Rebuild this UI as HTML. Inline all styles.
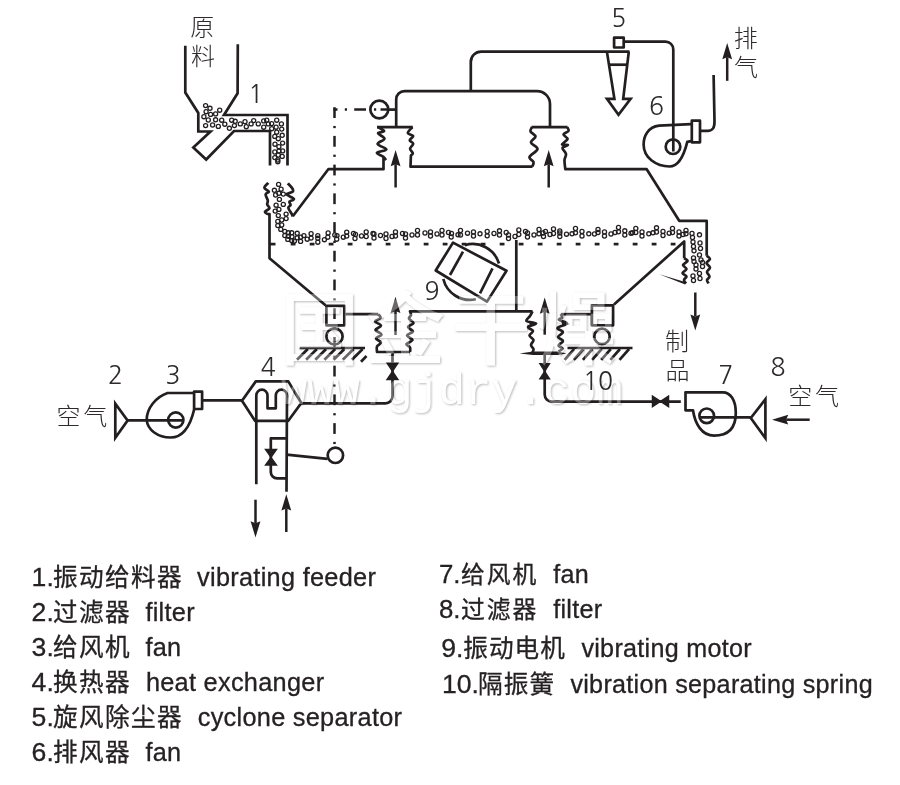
<!DOCTYPE html>
<html lang="zh">
<head>
<meta charset="utf-8">
<title>振动流化床干燥机流程图</title>
<style>
html,body{margin:0;padding:0;background:#fff;}
body{width:900px;height:785px;overflow:hidden;}
svg{display:block;filter:blur(0.35px);}
text{font-family:"Liberation Sans","Noto Sans CJK SC",sans-serif;}
.lab text{fill:#2e2a2b;font-family:"NanumGothic","Noto Sans CJK SC","Liberation Sans",sans-serif;font-weight:400;}
.lab text.c{font-family:"Noto Sans CJK SC","Liberation Sans",sans-serif;font-weight:300;}
.leg text{fill:#262223;stroke:#262223;stroke-width:0.3px;}
.wm text{fill:#fff;stroke:none;font-family:"Liberation Sans","Noto Sans CJK SC",sans-serif;font-weight:400;}
</style>
</head>
<body>
<svg width="900" height="785" viewBox="0 0 900 785">
<rect width="900" height="785" fill="#fff"/>
<g stroke-linecap="butt" stroke-linejoin="round">
<path d="M185.30,45.80 L185.30,92.50 L198.30,113.00 L198.30,131.50 L210.50,131.50 L193.30,147.50 L206.20,159.50 L234.00,131.00 L270.00,131.00 L270.00,165.50" fill="none" stroke="#231f20" stroke-width="2.7" stroke-linejoin="miter"/>
<path d="M237.80,44.20 L237.60,93.30 L224.00,115.00 L287.50,115.00 L287.50,165.50" fill="none" stroke="#231f20" stroke-width="2.7" stroke-linejoin="miter"/>
<circle cx="205.6" cy="105.6" r="2.05" fill="none" stroke="#231f20" stroke-width="1.3"/>
<circle cx="210.0" cy="108.3" r="2.05" fill="none" stroke="#231f20" stroke-width="1.3"/>
<circle cx="206.1" cy="111.7" r="2.05" fill="none" stroke="#231f20" stroke-width="1.3"/>
<circle cx="210.6" cy="114.4" r="2.05" fill="none" stroke="#231f20" stroke-width="1.3"/>
<circle cx="215.6" cy="113.9" r="2.05" fill="none" stroke="#231f20" stroke-width="1.3"/>
<circle cx="219.7" cy="110.2" r="2.05" fill="none" stroke="#231f20" stroke-width="1.3"/>
<circle cx="203.9" cy="116.7" r="2.05" fill="none" stroke="#231f20" stroke-width="1.3"/>
<circle cx="208.3" cy="120.0" r="2.05" fill="none" stroke="#231f20" stroke-width="1.3"/>
<circle cx="215.6" cy="119.8" r="2.05" fill="none" stroke="#231f20" stroke-width="1.3"/>
<circle cx="221.7" cy="120.2" r="2.05" fill="none" stroke="#231f20" stroke-width="1.3"/>
<circle cx="205.6" cy="125.6" r="2.05" fill="none" stroke="#231f20" stroke-width="1.3"/>
<circle cx="212.6" cy="125.0" r="2.05" fill="none" stroke="#231f20" stroke-width="1.3"/>
<circle cx="218.3" cy="126.4" r="2.05" fill="none" stroke="#231f20" stroke-width="1.3"/>
<circle cx="224.8" cy="124.2" r="2.05" fill="none" stroke="#231f20" stroke-width="1.3"/>
<circle cx="229.4" cy="128.3" r="2.05" fill="none" stroke="#231f20" stroke-width="1.3"/>
<circle cx="231.7" cy="120.2" r="2.05" fill="none" stroke="#231f20" stroke-width="1.3"/>
<circle cx="235.2" cy="121.3" r="2.05" fill="none" stroke="#231f20" stroke-width="1.3"/>
<circle cx="234.4" cy="125.6" r="2.05" fill="none" stroke="#231f20" stroke-width="1.3"/>
<circle cx="240.3" cy="123.9" r="2.05" fill="none" stroke="#231f20" stroke-width="1.3"/>
<circle cx="245.0" cy="121.7" r="2.05" fill="none" stroke="#231f20" stroke-width="1.3"/>
<circle cx="246.3" cy="126.7" r="2.05" fill="none" stroke="#231f20" stroke-width="1.3"/>
<circle cx="251.1" cy="123.9" r="2.05" fill="none" stroke="#231f20" stroke-width="1.3"/>
<circle cx="253.7" cy="120.6" r="2.05" fill="none" stroke="#231f20" stroke-width="1.3"/>
<circle cx="258.3" cy="123.9" r="2.05" fill="none" stroke="#231f20" stroke-width="1.3"/>
<circle cx="263.7" cy="120.9" r="2.05" fill="none" stroke="#231f20" stroke-width="1.3"/>
<circle cx="266.7" cy="120.2" r="2.05" fill="none" stroke="#231f20" stroke-width="1.3"/>
<circle cx="263.7" cy="127.2" r="2.05" fill="none" stroke="#231f20" stroke-width="1.3"/>
<circle cx="268.3" cy="123.9" r="2.05" fill="none" stroke="#231f20" stroke-width="1.3"/>
<circle cx="271.7" cy="123.6" r="2.05" fill="none" stroke="#231f20" stroke-width="1.3"/>
<circle cx="271.7" cy="128.7" r="2.05" fill="none" stroke="#231f20" stroke-width="1.3"/>
<circle cx="276.7" cy="120.2" r="2.05" fill="none" stroke="#231f20" stroke-width="1.3"/>
<circle cx="281.4" cy="123.9" r="2.05" fill="none" stroke="#231f20" stroke-width="1.3"/>
<circle cx="276.1" cy="127.2" r="2.05" fill="none" stroke="#231f20" stroke-width="1.3"/>
<circle cx="281.7" cy="129.1" r="2.05" fill="none" stroke="#231f20" stroke-width="1.3"/>
<circle cx="276.7" cy="132.2" r="2.05" fill="none" stroke="#231f20" stroke-width="1.3"/>
<circle cx="274.8" cy="136.4" r="2.05" fill="none" stroke="#231f20" stroke-width="1.3"/>
<circle cx="282.2" cy="135.3" r="2.05" fill="none" stroke="#231f20" stroke-width="1.3"/>
<circle cx="278.3" cy="138.7" r="2.05" fill="none" stroke="#231f20" stroke-width="1.3"/>
<circle cx="275.0" cy="144.2" r="2.05" fill="none" stroke="#231f20" stroke-width="1.3"/>
<circle cx="282.6" cy="143.1" r="2.05" fill="none" stroke="#231f20" stroke-width="1.3"/>
<circle cx="278.9" cy="146.7" r="2.05" fill="none" stroke="#231f20" stroke-width="1.3"/>
<circle cx="274.8" cy="152.0" r="2.05" fill="none" stroke="#231f20" stroke-width="1.3"/>
<circle cx="278.9" cy="151.1" r="2.05" fill="none" stroke="#231f20" stroke-width="1.3"/>
<circle cx="282.6" cy="150.9" r="2.05" fill="none" stroke="#231f20" stroke-width="1.3"/>
<circle cx="274.8" cy="157.6" r="2.05" fill="none" stroke="#231f20" stroke-width="1.3"/>
<circle cx="278.3" cy="155.0" r="2.05" fill="none" stroke="#231f20" stroke-width="1.3"/>
<circle cx="282.2" cy="156.4" r="2.05" fill="none" stroke="#231f20" stroke-width="1.3"/>
<circle cx="277.8" cy="160.0" r="2.05" fill="none" stroke="#231f20" stroke-width="1.3"/>
<circle cx="277.8" cy="161.7" r="2.05" fill="none" stroke="#231f20" stroke-width="1.3"/>
<path d="M268.30,182.80 C267.65,183.63 264.30,186.32 264.40,187.80 C264.50,189.28 268.70,190.60 268.90,191.70 C269.10,192.80 265.78,192.92 265.60,194.40 C265.42,195.88 267.53,198.93 267.80,200.60 C268.07,202.27 266.93,203.12 267.20,204.40 C267.47,205.68 269.77,207.08 269.40,208.30 C269.03,209.52 265.37,210.77 265.00,211.70 C264.63,212.63 266.45,213.52 267.20,213.90 C267.95,214.28 269.12,213.98 269.50,214.00 L269.5,258.3 L325.5,305.2" fill="none" stroke="#231f20" stroke-width="2.7" />
<path d="M287.80,183.30 C288.53,184.13 291.37,186.90 292.20,188.30 C293.03,189.70 293.72,190.68 292.80,191.70 C291.88,192.72 286.52,193.20 286.70,194.40 C286.88,195.60 293.45,197.68 293.90,198.90 C294.35,200.12 289.95,200.68 289.40,201.70 C288.85,202.72 290.78,203.98 290.60,205.00 C290.42,206.02 288.12,206.32 288.30,207.80 C288.48,209.28 290.95,212.45 291.70,213.90 C292.45,215.35 292.62,216.07 292.80,216.50" fill="none" stroke="#231f20" stroke-width="2.7" />
<circle cx="278.6" cy="184.4" r="2.05" fill="none" stroke="#231f20" stroke-width="1.3"/>
<circle cx="274.4" cy="190.3" r="2.05" fill="none" stroke="#231f20" stroke-width="1.3"/>
<circle cx="281.1" cy="189.2" r="2.05" fill="none" stroke="#231f20" stroke-width="1.3"/>
<circle cx="275.6" cy="195.0" r="2.05" fill="none" stroke="#231f20" stroke-width="1.3"/>
<circle cx="278.9" cy="193.3" r="2.05" fill="none" stroke="#231f20" stroke-width="1.3"/>
<circle cx="283.3" cy="194.1" r="2.05" fill="none" stroke="#231f20" stroke-width="1.3"/>
<circle cx="279.4" cy="199.4" r="2.05" fill="none" stroke="#231f20" stroke-width="1.3"/>
<circle cx="283.3" cy="204.4" r="2.05" fill="none" stroke="#231f20" stroke-width="1.3"/>
<circle cx="276.1" cy="205.2" r="2.05" fill="none" stroke="#231f20" stroke-width="1.3"/>
<circle cx="278.9" cy="209.4" r="2.05" fill="none" stroke="#231f20" stroke-width="1.3"/>
<circle cx="275.2" cy="211.1" r="2.05" fill="none" stroke="#231f20" stroke-width="1.3"/>
<circle cx="278.3" cy="215.6" r="2.05" fill="none" stroke="#231f20" stroke-width="1.3"/>
<circle cx="286.1" cy="214.1" r="2.05" fill="none" stroke="#231f20" stroke-width="1.3"/>
<circle cx="286.1" cy="218.6" r="2.05" fill="none" stroke="#231f20" stroke-width="1.3"/>
<circle cx="281.7" cy="220.0" r="2.05" fill="none" stroke="#231f20" stroke-width="1.3"/>
<circle cx="277.8" cy="221.4" r="2.05" fill="none" stroke="#231f20" stroke-width="1.3"/>
<circle cx="277.8" cy="225.6" r="2.05" fill="none" stroke="#231f20" stroke-width="1.3"/>
<circle cx="281.7" cy="225.0" r="2.05" fill="none" stroke="#231f20" stroke-width="1.3"/>
<circle cx="280.8" cy="229.4" r="2.05" fill="none" stroke="#231f20" stroke-width="1.3"/>
<circle cx="284.8" cy="231.4" r="2.05" fill="none" stroke="#231f20" stroke-width="1.3"/>
<circle cx="284.8" cy="235.6" r="2.05" fill="none" stroke="#231f20" stroke-width="1.3"/>
<circle cx="288.3" cy="232.8" r="2.05" fill="none" stroke="#231f20" stroke-width="1.3"/>
<circle cx="291.7" cy="232.8" r="2.05" fill="none" stroke="#231f20" stroke-width="1.3"/>
<circle cx="288.3" cy="236.3" r="2.05" fill="none" stroke="#231f20" stroke-width="1.3"/>
<circle cx="291.9" cy="236.7" r="2.05" fill="none" stroke="#231f20" stroke-width="1.3"/>
<circle cx="287.8" cy="239.4" r="2.05" fill="none" stroke="#231f20" stroke-width="1.3"/>
<circle cx="291.7" cy="240.6" r="2.05" fill="none" stroke="#231f20" stroke-width="1.3"/>
<circle cx="294.4" cy="241.1" r="2.05" fill="none" stroke="#231f20" stroke-width="1.3"/>
<circle cx="297.2" cy="233.3" r="2.05" fill="none" stroke="#231f20" stroke-width="1.3"/>
<circle cx="297.2" cy="237.8" r="2.05" fill="none" stroke="#231f20" stroke-width="1.3"/>
<circle cx="300.6" cy="237.2" r="2.05" fill="none" stroke="#231f20" stroke-width="1.3"/>
<circle cx="300.6" cy="241.4" r="2.05" fill="none" stroke="#231f20" stroke-width="1.3"/>
<circle cx="303.9" cy="235.6" r="2.05" fill="none" stroke="#231f20" stroke-width="1.3"/>
<circle cx="307.2" cy="239.2" r="2.05" fill="none" stroke="#231f20" stroke-width="1.3"/>
<circle cx="311.1" cy="233.7" r="2.05" fill="none" stroke="#231f20" stroke-width="1.3"/>
<circle cx="311.1" cy="238.1" r="2.05" fill="none" stroke="#231f20" stroke-width="1.3"/>
<circle cx="317.8" cy="235.6" r="2.05" fill="none" stroke="#231f20" stroke-width="1.3"/>
<circle cx="317.8" cy="238.3" r="2.05" fill="none" stroke="#231f20" stroke-width="1.3"/>
<circle cx="317.8" cy="242.2" r="2.05" fill="none" stroke="#231f20" stroke-width="1.3"/>
<circle cx="324.4" cy="239.7" r="2.05" fill="none" stroke="#231f20" stroke-width="1.3"/>
<circle cx="328.1" cy="233.0" r="2.05" fill="none" stroke="#231f20" stroke-width="1.3"/>
<circle cx="327.8" cy="237.2" r="2.05" fill="none" stroke="#231f20" stroke-width="1.3"/>
<circle cx="334.8" cy="235.0" r="2.05" fill="none" stroke="#231f20" stroke-width="1.3"/>
<circle cx="337.0" cy="235.6" r="2.05" fill="none" stroke="#231f20" stroke-width="1.3"/>
<circle cx="336.7" cy="239.2" r="2.05" fill="none" stroke="#231f20" stroke-width="1.3"/>
<circle cx="343.3" cy="237.2" r="2.05" fill="none" stroke="#231f20" stroke-width="1.3"/>
<circle cx="346.7" cy="232.2" r="2.05" fill="none" stroke="#231f20" stroke-width="1.3"/>
<circle cx="346.7" cy="236.1" r="2.05" fill="none" stroke="#231f20" stroke-width="1.3"/>
<circle cx="353.5" cy="233.5" r="2.05" fill="none" stroke="#231f20" stroke-width="1.3"/>
<circle cx="355.5" cy="234.5" r="2.05" fill="none" stroke="#231f20" stroke-width="1.3"/>
<circle cx="355.0" cy="238.5" r="2.05" fill="none" stroke="#231f20" stroke-width="1.3"/>
<circle cx="361.5" cy="236.0" r="2.05" fill="none" stroke="#231f20" stroke-width="1.3"/>
<circle cx="366.2" cy="232.0" r="2.05" fill="none" stroke="#231f20" stroke-width="1.3"/>
<circle cx="366.2" cy="236.5" r="2.05" fill="none" stroke="#231f20" stroke-width="1.3"/>
<circle cx="373.0" cy="233.5" r="2.05" fill="none" stroke="#231f20" stroke-width="1.3"/>
<circle cx="374.0" cy="234.0" r="2.05" fill="none" stroke="#231f20" stroke-width="1.3"/>
<circle cx="374.0" cy="238.0" r="2.05" fill="none" stroke="#231f20" stroke-width="1.3"/>
<circle cx="380.5" cy="235.5" r="2.05" fill="none" stroke="#231f20" stroke-width="1.3"/>
<circle cx="386.0" cy="234.0" r="2.05" fill="none" stroke="#231f20" stroke-width="1.3"/>
<circle cx="386.0" cy="238.5" r="2.05" fill="none" stroke="#231f20" stroke-width="1.3"/>
<circle cx="392.0" cy="236.5" r="2.05" fill="none" stroke="#231f20" stroke-width="1.3"/>
<circle cx="395.5" cy="232.0" r="2.05" fill="none" stroke="#231f20" stroke-width="1.3"/>
<circle cx="395.5" cy="236.0" r="2.05" fill="none" stroke="#231f20" stroke-width="1.3"/>
<circle cx="402.5" cy="233.5" r="2.05" fill="none" stroke="#231f20" stroke-width="1.3"/>
<circle cx="405.5" cy="234.0" r="2.05" fill="none" stroke="#231f20" stroke-width="1.3"/>
<circle cx="405.5" cy="238.0" r="2.05" fill="none" stroke="#231f20" stroke-width="1.3"/>
<circle cx="412.0" cy="235.0" r="2.05" fill="none" stroke="#231f20" stroke-width="1.3"/>
<circle cx="417.5" cy="230.5" r="2.05" fill="none" stroke="#231f20" stroke-width="1.3"/>
<circle cx="417.5" cy="235.0" r="2.05" fill="none" stroke="#231f20" stroke-width="1.3"/>
<circle cx="425.0" cy="233.0" r="2.05" fill="none" stroke="#231f20" stroke-width="1.3"/>
<circle cx="430.5" cy="232.0" r="2.05" fill="none" stroke="#231f20" stroke-width="1.3"/>
<circle cx="430.5" cy="236.0" r="2.05" fill="none" stroke="#231f20" stroke-width="1.3"/>
<circle cx="437.0" cy="234.0" r="2.05" fill="none" stroke="#231f20" stroke-width="1.3"/>
<circle cx="442.0" cy="230.5" r="2.05" fill="none" stroke="#231f20" stroke-width="1.3"/>
<circle cx="442.0" cy="235.0" r="2.05" fill="none" stroke="#231f20" stroke-width="1.3"/>
<circle cx="448.5" cy="232.5" r="2.05" fill="none" stroke="#231f20" stroke-width="1.3"/>
<circle cx="451.5" cy="233.5" r="2.05" fill="none" stroke="#231f20" stroke-width="1.3"/>
<circle cx="451.2" cy="237.0" r="2.05" fill="none" stroke="#231f20" stroke-width="1.3"/>
<circle cx="458.0" cy="234.8" r="2.05" fill="none" stroke="#231f20" stroke-width="1.3"/>
<circle cx="460.5" cy="230.5" r="2.05" fill="none" stroke="#231f20" stroke-width="1.3"/>
<circle cx="460.5" cy="235.0" r="2.05" fill="none" stroke="#231f20" stroke-width="1.3"/>
<circle cx="467.5" cy="233.2" r="2.05" fill="none" stroke="#231f20" stroke-width="1.3"/>
<circle cx="473.5" cy="232.0" r="2.05" fill="none" stroke="#231f20" stroke-width="1.3"/>
<circle cx="473.5" cy="236.0" r="2.05" fill="none" stroke="#231f20" stroke-width="1.3"/>
<circle cx="480.0" cy="233.8" r="2.05" fill="none" stroke="#231f20" stroke-width="1.3"/>
<circle cx="487.2" cy="231.5" r="2.05" fill="none" stroke="#231f20" stroke-width="1.3"/>
<circle cx="487.2" cy="235.8" r="2.05" fill="none" stroke="#231f20" stroke-width="1.3"/>
<circle cx="494.0" cy="233.5" r="2.05" fill="none" stroke="#231f20" stroke-width="1.3"/>
<circle cx="499.5" cy="230.8" r="2.05" fill="none" stroke="#231f20" stroke-width="1.3"/>
<circle cx="499.5" cy="235.0" r="2.05" fill="none" stroke="#231f20" stroke-width="1.3"/>
<circle cx="506.2" cy="232.5" r="2.05" fill="none" stroke="#231f20" stroke-width="1.3"/>
<circle cx="508.5" cy="235.0" r="2.05" fill="none" stroke="#231f20" stroke-width="1.3"/>
<circle cx="508.5" cy="238.5" r="2.05" fill="none" stroke="#231f20" stroke-width="1.3"/>
<circle cx="515.0" cy="236.5" r="2.05" fill="none" stroke="#231f20" stroke-width="1.3"/>
<circle cx="518.8" cy="230.0" r="2.05" fill="none" stroke="#231f20" stroke-width="1.3"/>
<circle cx="518.8" cy="234.5" r="2.05" fill="none" stroke="#231f20" stroke-width="1.3"/>
<circle cx="525.5" cy="231.5" r="2.05" fill="none" stroke="#231f20" stroke-width="1.3"/>
<circle cx="527.5" cy="233.0" r="2.05" fill="none" stroke="#231f20" stroke-width="1.3"/>
<circle cx="527.5" cy="237.0" r="2.05" fill="none" stroke="#231f20" stroke-width="1.3"/>
<circle cx="534.0" cy="235.0" r="2.05" fill="none" stroke="#231f20" stroke-width="1.3"/>
<circle cx="539.0" cy="229.5" r="2.05" fill="none" stroke="#231f20" stroke-width="1.3"/>
<circle cx="539.0" cy="233.8" r="2.05" fill="none" stroke="#231f20" stroke-width="1.3"/>
<circle cx="543.0" cy="233.0" r="2.05" fill="none" stroke="#231f20" stroke-width="1.3"/>
<circle cx="543.5" cy="236.5" r="2.05" fill="none" stroke="#231f20" stroke-width="1.3"/>
<circle cx="545.5" cy="231.5" r="2.05" fill="none" stroke="#231f20" stroke-width="1.3"/>
<circle cx="550.0" cy="234.5" r="2.05" fill="none" stroke="#231f20" stroke-width="1.3"/>
<circle cx="553.5" cy="229.0" r="2.05" fill="none" stroke="#231f20" stroke-width="1.3"/>
<circle cx="553.5" cy="233.5" r="2.05" fill="none" stroke="#231f20" stroke-width="1.3"/>
<circle cx="559.8" cy="231.0" r="2.05" fill="none" stroke="#231f20" stroke-width="1.3"/>
<circle cx="559.8" cy="233.0" r="2.05" fill="none" stroke="#231f20" stroke-width="1.3"/>
<circle cx="559.8" cy="236.5" r="2.05" fill="none" stroke="#231f20" stroke-width="1.3"/>
<circle cx="566.5" cy="234.2" r="2.05" fill="none" stroke="#231f20" stroke-width="1.3"/>
<circle cx="572.0" cy="233.8" r="2.05" fill="none" stroke="#231f20" stroke-width="1.3"/>
<circle cx="575.5" cy="228.5" r="2.05" fill="none" stroke="#231f20" stroke-width="1.3"/>
<circle cx="575.5" cy="232.8" r="2.05" fill="none" stroke="#231f20" stroke-width="1.3"/>
<circle cx="582.0" cy="231.5" r="2.05" fill="none" stroke="#231f20" stroke-width="1.3"/>
<circle cx="582.0" cy="236.0" r="2.05" fill="none" stroke="#231f20" stroke-width="1.3"/>
<circle cx="588.8" cy="233.8" r="2.05" fill="none" stroke="#231f20" stroke-width="1.3"/>
<circle cx="594.5" cy="234.0" r="2.05" fill="none" stroke="#231f20" stroke-width="1.3"/>
<circle cx="598.0" cy="229.5" r="2.05" fill="none" stroke="#231f20" stroke-width="1.3"/>
<circle cx="598.0" cy="232.5" r="2.05" fill="none" stroke="#231f20" stroke-width="1.3"/>
<circle cx="604.5" cy="232.0" r="2.05" fill="none" stroke="#231f20" stroke-width="1.3"/>
<circle cx="604.5" cy="236.0" r="2.05" fill="none" stroke="#231f20" stroke-width="1.3"/>
<circle cx="611.0" cy="234.0" r="2.05" fill="none" stroke="#231f20" stroke-width="1.3"/>
<circle cx="615.0" cy="232.5" r="2.05" fill="none" stroke="#231f20" stroke-width="1.3"/>
<circle cx="618.5" cy="227.5" r="2.05" fill="none" stroke="#231f20" stroke-width="1.3"/>
<circle cx="618.5" cy="231.8" r="2.05" fill="none" stroke="#231f20" stroke-width="1.3"/>
<circle cx="624.8" cy="230.8" r="2.05" fill="none" stroke="#231f20" stroke-width="1.3"/>
<circle cx="624.8" cy="235.0" r="2.05" fill="none" stroke="#231f20" stroke-width="1.3"/>
<circle cx="631.0" cy="233.2" r="2.05" fill="none" stroke="#231f20" stroke-width="1.3"/>
<circle cx="632.5" cy="232.8" r="2.05" fill="none" stroke="#231f20" stroke-width="1.3"/>
<circle cx="635.8" cy="228.5" r="2.05" fill="none" stroke="#231f20" stroke-width="1.3"/>
<circle cx="635.8" cy="232.5" r="2.05" fill="none" stroke="#231f20" stroke-width="1.3"/>
<circle cx="642.0" cy="232.0" r="2.05" fill="none" stroke="#231f20" stroke-width="1.3"/>
<circle cx="642.0" cy="236.0" r="2.05" fill="none" stroke="#231f20" stroke-width="1.3"/>
<circle cx="648.8" cy="233.8" r="2.05" fill="none" stroke="#231f20" stroke-width="1.3"/>
<circle cx="653.0" cy="232.8" r="2.05" fill="none" stroke="#231f20" stroke-width="1.3"/>
<circle cx="656.5" cy="227.8" r="2.05" fill="none" stroke="#231f20" stroke-width="1.3"/>
<circle cx="656.5" cy="232.0" r="2.05" fill="none" stroke="#231f20" stroke-width="1.3"/>
<circle cx="663.0" cy="231.5" r="2.05" fill="none" stroke="#231f20" stroke-width="1.3"/>
<circle cx="663.0" cy="235.5" r="2.05" fill="none" stroke="#231f20" stroke-width="1.3"/>
<circle cx="669.2" cy="233.2" r="2.05" fill="none" stroke="#231f20" stroke-width="1.3"/>
<circle cx="672.5" cy="228.5" r="2.05" fill="none" stroke="#231f20" stroke-width="1.3"/>
<circle cx="672.5" cy="232.5" r="2.05" fill="none" stroke="#231f20" stroke-width="1.3"/>
<circle cx="679.0" cy="232.0" r="2.05" fill="none" stroke="#231f20" stroke-width="1.3"/>
<circle cx="679.0" cy="236.0" r="2.05" fill="none" stroke="#231f20" stroke-width="1.3"/>
<circle cx="683.0" cy="234.5" r="2.05" fill="none" stroke="#231f20" stroke-width="1.3"/>
<circle cx="686.0" cy="230.5" r="2.05" fill="none" stroke="#231f20" stroke-width="1.3"/>
<circle cx="686.0" cy="233.8" r="2.05" fill="none" stroke="#231f20" stroke-width="1.3"/>
<line x1="269.5" y1="244.1" x2="275.5" y2="244.1" stroke="#231f20" stroke-width="2.7" />
<line x1="290.7" y1="244.1" x2="295.5" y2="244.1" stroke="#231f20" stroke-width="2.7" />
<line x1="309.7" y1="244.1" x2="314.5" y2="244.1" stroke="#231f20" stroke-width="2.7" />
<line x1="328.7" y1="244.1" x2="333.5" y2="244.1" stroke="#231f20" stroke-width="2.7" />
<line x1="347.7" y1="244.1" x2="352.5" y2="244.1" stroke="#231f20" stroke-width="2.7" />
<line x1="366.7" y1="244.1" x2="371.5" y2="244.1" stroke="#231f20" stroke-width="2.7" />
<line x1="385.7" y1="244.1" x2="390.5" y2="244.1" stroke="#231f20" stroke-width="2.7" />
<line x1="404.7" y1="244.1" x2="409.5" y2="244.1" stroke="#231f20" stroke-width="2.7" />
<line x1="423.7" y1="244.1" x2="428.5" y2="244.1" stroke="#231f20" stroke-width="2.7" />
<line x1="442.7" y1="244.1" x2="447.5" y2="244.1" stroke="#231f20" stroke-width="2.7" />
<line x1="461.7" y1="244.1" x2="466.5" y2="244.1" stroke="#231f20" stroke-width="2.7" />
<line x1="480.7" y1="244.1" x2="485.5" y2="244.1" stroke="#231f20" stroke-width="2.7" />
<line x1="499.7" y1="244.1" x2="504.5" y2="244.1" stroke="#231f20" stroke-width="2.7" />
<line x1="518.7" y1="244.1" x2="523.5" y2="244.1" stroke="#231f20" stroke-width="2.7" />
<line x1="537.7" y1="244.1" x2="542.5" y2="244.1" stroke="#231f20" stroke-width="2.7" />
<line x1="556.7" y1="244.1" x2="561.5" y2="244.1" stroke="#231f20" stroke-width="2.7" />
<line x1="575.7" y1="244.1" x2="580.5" y2="244.1" stroke="#231f20" stroke-width="2.7" />
<line x1="594.7" y1="244.1" x2="599.5" y2="244.1" stroke="#231f20" stroke-width="2.7" />
<line x1="613.7" y1="244.1" x2="618.5" y2="244.1" stroke="#231f20" stroke-width="2.7" />
<line x1="632.7" y1="244.1" x2="637.5" y2="244.1" stroke="#231f20" stroke-width="2.7" />
<line x1="651.7" y1="244.1" x2="656.5" y2="244.1" stroke="#231f20" stroke-width="2.7" />
<line x1="670.7" y1="244.1" x2="675.5" y2="244.1" stroke="#231f20" stroke-width="2.7" />
<path d="M292.8,216.3 L328.3,169.2 L383.5,169.2 L383.5,157.2" fill="none" stroke="#231f20" stroke-width="2.7" />
<path d="M386.00,160.10 C385.55,159.53 384.82,157.92 383.30,156.70 C381.78,155.48 376.38,154.02 376.90,152.80 C377.42,151.58 386.28,150.87 386.40,149.40 C386.52,147.93 377.92,145.78 377.60,144.00 C377.28,142.22 384.43,140.48 384.50,138.70 C384.57,136.92 378.07,134.57 378.00,133.30 C377.93,132.03 384.17,132.17 384.10,131.10 C384.03,130.03 378.68,127.60 377.60,126.90" fill="none" stroke="#231f20" stroke-width="2.7" />
<path d="M377,127.1 L412.8,127.1" fill="none" stroke="#231f20" stroke-width="2.7" />
<path d="M412.40,127.20 C411.63,128.17 407.67,131.53 407.80,133.00 C407.93,134.47 412.88,134.80 413.20,136.00 C413.52,137.20 409.70,138.92 409.70,140.20 C409.70,141.48 413.13,142.30 413.20,143.70 C413.27,145.10 410.17,147.02 410.10,148.60 C410.03,150.18 412.67,152.05 412.80,153.20 C412.93,154.35 411.22,155.12 410.90,155.50 L410.5,166.7 L532.5,166.7" fill="none" stroke="#231f20" stroke-width="2.7" />
<path d="M532.30,166.70 C532.50,165.92 533.97,163.62 533.50,162.00 C533.03,160.38 528.83,159.17 529.50,157.00 C530.17,154.83 537.25,151.42 537.50,149.00 C537.75,146.58 531.33,144.58 531.00,142.50 C530.67,140.42 535.58,138.33 535.50,136.50 C535.42,134.67 531.08,133.08 530.50,131.50 C529.92,129.92 531.75,127.75 532.00,127.00" fill="none" stroke="#231f20" stroke-width="2.7" />
<path d="M531.5,127.1 L567.6,127.1" fill="none" stroke="#231f20" stroke-width="2.7" />
<path d="M567.30,127.20 C567.50,127.83 569.13,129.78 568.50,131.00 C567.87,132.22 563.67,133.17 563.50,134.50 C563.33,135.83 567.75,137.33 567.50,139.00 C567.25,140.67 561.92,143.50 562.00,144.50 C562.08,145.50 567.92,144.42 568.00,145.00 C568.08,145.58 562.83,146.50 562.50,148.00 C562.17,149.50 565.67,152.00 566.00,154.00 C566.33,156.00 564.62,157.47 564.50,160.00 C564.38,162.53 565.17,167.67 565.30,169.20 L646.7,169.2 L679.2,220.8 L706.7,220.8 L706.7,255.8" fill="none" stroke="#231f20" stroke-width="2.7" />
<path d="M706.70,255.80 C707.25,256.33 710.03,257.80 710.00,259.00 C709.97,260.20 706.50,261.58 706.50,263.00 C706.50,264.42 709.92,266.00 710.00,267.50 C710.08,269.00 707.08,270.50 707.00,272.00 C706.92,273.50 709.50,275.17 709.50,276.50 C709.50,277.83 707.17,278.83 707.00,280.00 C706.83,281.17 708.25,282.92 708.50,283.50" fill="none" stroke="#231f20" stroke-width="2.7" />
<path d="M396.2,127.3 L396.2,99.4 A8.3,8.3 0 0 1 404.5,91.1 L537,91.1 A13,13 0 0 1 550,104.1 L550,127.3" fill="none" stroke="#231f20" stroke-width="2.7" />
<path d="M470.8,91.1 L470.8,61.9 A10.3,10.3 0 0 1 481.1,51.6 L629.5,51.6" fill="none" stroke="#231f20" stroke-width="2.7" />
<path d="M606.9,51.6 L614.4,98.8 L607,98.8 L618.5,114.8 L630.6,98.8 L623.2,98.8 L628.8,51.6" fill="none" stroke="#231f20" stroke-width="2.7" stroke-linejoin="miter"/>
<line x1="609" y1="64.7" x2="627.3" y2="64.7" stroke="#231f20" stroke-width="2.7" />
<rect x="614.1" y="37.7" width="9.6" height="9.8" fill="none" stroke="#231f20" stroke-width="2.7"/>
<path d="M624.7,41.6 L665.5,41.6 A7.8,7.8 0 0 1 673.3,49.4 L673.3,151.5" fill="none" stroke="#231f20" stroke-width="2.7" />
<circle cx="673" cy="146.7" r="7.3" fill="none" stroke="#231f20" stroke-width="2.7"/>
<path d="M691,124.2 L659,125.6 C648,126.8 643.6,136.5 643.6,144.5 C643.6,158 656.5,166.5 669.5,166.5 C680.5,166.5 685,151 687.3,141.8 L691,141.2" fill="none" stroke="#231f20" stroke-width="2.7" />
<rect x="691.8" y="120.7" width="8.2" height="21.6" fill="none" stroke="#231f20" stroke-width="2.7"/>
<path d="M700.8,130.9 L707.5,130.9 C713,130.9 714.6,127.5 714.5,121 L713.6,75" fill="none" stroke="#231f20" stroke-width="2.7" />
<polygon points="727.20,43.00 722.30,59.20 727.20,57.20 732.10,59.20" fill="#231f20"/>
<line x1="727.20" y1="57.20" x2="727.2" y2="80.8" stroke="#231f20" stroke-width="2.5" />
<circle cx="379.3" cy="109.5" r="8.95" fill="none" stroke="#231f20" stroke-width="2.7"/>
<line x1="388.2" y1="109.6" x2="396.2" y2="109.6" stroke="#231f20" stroke-width="2.7" />
<line x1="333.4" y1="109.5" x2="337.5" y2="109.5" stroke="#231f20" stroke-width="2.5" />
<line x1="344.8" y1="109.5" x2="347.0" y2="109.5" stroke="#231f20" stroke-width="2.5" />
<line x1="354.2" y1="109.5" x2="366.0" y2="109.5" stroke="#231f20" stroke-width="2.5" />
<line x1="374" y1="109.5" x2="376.2" y2="109.5" stroke="#231f20" stroke-width="2.5" />
<line x1="380.5" y1="109.5" x2="388" y2="109.5" stroke="#231f20" stroke-width="2.5" />
<line x1="334.5" y1="107.20" x2="334.5" y2="118.00" stroke="#231f20" stroke-width="2.5" />
<line x1="334.5" y1="125.95" x2="334.5" y2="128.15" stroke="#231f20" stroke-width="2.5" />
<line x1="334.5" y1="135.92" x2="334.5" y2="146.72" stroke="#231f20" stroke-width="2.5" />
<line x1="334.5" y1="154.67" x2="334.5" y2="156.87" stroke="#231f20" stroke-width="2.5" />
<line x1="334.5" y1="164.64" x2="334.5" y2="175.44" stroke="#231f20" stroke-width="2.5" />
<line x1="334.5" y1="183.39" x2="334.5" y2="185.59" stroke="#231f20" stroke-width="2.5" />
<line x1="334.5" y1="193.36" x2="334.5" y2="204.16" stroke="#231f20" stroke-width="2.5" />
<line x1="334.5" y1="212.11" x2="334.5" y2="214.31" stroke="#231f20" stroke-width="2.5" />
<line x1="334.5" y1="222.08" x2="334.5" y2="232.88" stroke="#231f20" stroke-width="2.5" />
<line x1="334.5" y1="240.83" x2="334.5" y2="243.03" stroke="#231f20" stroke-width="2.5" />
<line x1="334.5" y1="250.80" x2="334.5" y2="261.60" stroke="#231f20" stroke-width="2.5" />
<line x1="334.5" y1="269.55" x2="334.5" y2="271.75" stroke="#231f20" stroke-width="2.5" />
<line x1="334.5" y1="279.52" x2="334.5" y2="290.32" stroke="#231f20" stroke-width="2.5" />
<line x1="334.5" y1="298.27" x2="334.5" y2="300.47" stroke="#231f20" stroke-width="2.5" />
<line x1="334.5" y1="308.24" x2="334.5" y2="319.04" stroke="#231f20" stroke-width="2.5" />
<line x1="334.5" y1="326.99" x2="334.5" y2="329.19" stroke="#231f20" stroke-width="2.5" />
<line x1="334.5" y1="336.96" x2="334.5" y2="347.76" stroke="#231f20" stroke-width="2.5" />
<line x1="334.5" y1="355.71" x2="334.5" y2="357.91" stroke="#231f20" stroke-width="2.5" />
<line x1="334.5" y1="365.68" x2="334.5" y2="376.48" stroke="#231f20" stroke-width="2.5" />
<line x1="334.5" y1="384.43" x2="334.5" y2="386.63" stroke="#231f20" stroke-width="2.5" />
<line x1="334.5" y1="394.40" x2="334.5" y2="405.20" stroke="#231f20" stroke-width="2.5" />
<line x1="334.5" y1="413.15" x2="334.5" y2="415.35" stroke="#231f20" stroke-width="2.5" />
<line x1="334.5" y1="423.12" x2="334.5" y2="433.92" stroke="#231f20" stroke-width="2.5" />
<line x1="334.5" y1="441.87" x2="334.5" y2="444.07" stroke="#231f20" stroke-width="2.5" />
<polygon points="395.60,150.00 390.70,166.20 395.60,164.20 400.50,166.20" fill="#231f20"/>
<line x1="395.60" y1="164.20" x2="395.6" y2="187.5" stroke="#231f20" stroke-width="2.5" />
<polygon points="548.70,150.00 543.80,166.20 548.70,164.20 553.60,166.20" fill="#231f20"/>
<line x1="548.70" y1="164.20" x2="548.7" y2="187.5" stroke="#231f20" stroke-width="2.5" />
<path d="M614,304.4 L684.2,241.5 L684.2,258.3" fill="none" stroke="#231f20" stroke-width="2.7" />
<path d="M684.20,258.30 C684.75,258.75 687.70,259.88 687.50,261.00 C687.30,262.12 683.17,263.67 683.00,265.00 C682.83,266.33 686.58,267.67 686.50,269.00 C686.42,270.33 682.50,271.75 682.50,273.00 C682.50,274.25 686.25,275.33 686.50,276.50 C686.75,277.67 684.08,278.83 684.00,280.00 C683.92,281.17 685.67,282.92 686.00,283.50" fill="none" stroke="#231f20" stroke-width="2.7" />
<polygon points="659.3,274.2 686,282.2 685.2,284.6" fill="#231f20"/>
<circle cx="692.0" cy="233.5" r="2.05" fill="none" stroke="#231f20" stroke-width="1.3"/>
<circle cx="699.5" cy="234.8" r="2.05" fill="none" stroke="#231f20" stroke-width="1.3"/>
<circle cx="692.5" cy="237.5" r="2.05" fill="none" stroke="#231f20" stroke-width="1.3"/>
<circle cx="693.0" cy="242.0" r="2.05" fill="none" stroke="#231f20" stroke-width="1.3"/>
<circle cx="700.0" cy="243.0" r="2.05" fill="none" stroke="#231f20" stroke-width="1.3"/>
<circle cx="693.5" cy="246.5" r="2.05" fill="none" stroke="#231f20" stroke-width="1.3"/>
<circle cx="700.5" cy="248.5" r="2.05" fill="none" stroke="#231f20" stroke-width="1.3"/>
<circle cx="694.0" cy="250.8" r="2.05" fill="none" stroke="#231f20" stroke-width="1.3"/>
<circle cx="699.5" cy="255.0" r="2.05" fill="none" stroke="#231f20" stroke-width="1.3"/>
<circle cx="693.5" cy="258.0" r="2.05" fill="none" stroke="#231f20" stroke-width="1.3"/>
<circle cx="701.0" cy="260.0" r="2.05" fill="none" stroke="#231f20" stroke-width="1.3"/>
<circle cx="694.0" cy="261.5" r="2.05" fill="none" stroke="#231f20" stroke-width="1.3"/>
<circle cx="702.5" cy="262.5" r="2.05" fill="none" stroke="#231f20" stroke-width="1.3"/>
<circle cx="696.0" cy="265.0" r="2.05" fill="none" stroke="#231f20" stroke-width="1.3"/>
<circle cx="702.5" cy="266.5" r="2.05" fill="none" stroke="#231f20" stroke-width="1.3"/>
<circle cx="696.0" cy="269.0" r="2.05" fill="none" stroke="#231f20" stroke-width="1.3"/>
<circle cx="699.5" cy="273.5" r="2.05" fill="none" stroke="#231f20" stroke-width="1.3"/>
<circle cx="693.0" cy="276.0" r="2.05" fill="none" stroke="#231f20" stroke-width="1.3"/>
<circle cx="700.0" cy="278.5" r="2.05" fill="none" stroke="#231f20" stroke-width="1.3"/>
<circle cx="693.5" cy="280.5" r="2.05" fill="none" stroke="#231f20" stroke-width="1.3"/>
<rect x="326.4" y="305.8" width="17.9" height="19.5" fill="none" stroke="#231f20" stroke-width="2.7"/>
<circle cx="334.5" cy="336.4" r="8.1" fill="none" stroke="#231f20" stroke-width="2.7"/>
<line x1="299.7" y1="348" x2="365" y2="348" stroke="#231f20" stroke-width="2.7" />
<line x1="307.8" y1="349" x2="297.0" y2="359.8" stroke="#231f20" stroke-width="2.7" />
<line x1="316.9" y1="349" x2="306.1" y2="359.8" stroke="#231f20" stroke-width="2.7" />
<line x1="326.1" y1="349" x2="315.3" y2="359.8" stroke="#231f20" stroke-width="2.7" />
<line x1="335.2" y1="349" x2="324.4" y2="359.8" stroke="#231f20" stroke-width="2.7" />
<line x1="344.4" y1="349" x2="333.6" y2="359.8" stroke="#231f20" stroke-width="2.7" />
<line x1="353.6" y1="349" x2="342.8" y2="359.8" stroke="#231f20" stroke-width="2.7" />
<line x1="362.7" y1="349" x2="351.9" y2="359.8" stroke="#231f20" stroke-width="2.7" />
<line x1="366.5" y1="356" x2="361" y2="361.7" stroke="#231f20" stroke-width="2.7" />
<path d="M345.3,314.2 L378.3,314.2" fill="none" stroke="#231f20" stroke-width="2.7" />
<path d="M378.30,314.20 C378.67,314.83 381.05,316.78 380.50,318.00 C379.95,319.22 374.92,320.25 375.00,321.50 C375.08,322.75 380.92,324.08 381.00,325.50 C381.08,326.92 375.42,328.50 375.50,330.00 C375.58,331.50 381.42,333.08 381.50,334.50 C381.58,335.92 376.08,337.17 376.00,338.50 C375.92,339.83 380.83,341.17 381.00,342.50 C381.17,343.83 377.67,344.92 377.00,346.50 C376.33,348.08 377.00,351.08 377.00,352.00 L410,352" fill="none" stroke="#231f20" stroke-width="2.7" />
<path d="M410.00,352.00 C410.00,351.25 410.58,348.83 410.00,347.50 C409.42,346.17 406.08,345.25 406.50,344.00 C406.92,342.75 412.42,341.42 412.50,340.00 C412.58,338.58 406.92,336.92 407.00,335.50 C407.08,334.08 412.83,332.92 413.00,331.50 C413.17,330.08 407.92,328.42 408.00,327.00 C408.08,325.58 413.33,324.42 413.50,323.00 C413.67,321.58 409.42,319.83 409.00,318.50 C408.58,317.17 410.83,316.20 411.00,315.00 C411.17,313.80 410.17,311.92 410.00,311.30 L532.5,311.3" fill="none" stroke="#231f20" stroke-width="2.7" />
<line x1="516.3" y1="240" x2="516.3" y2="311.3" stroke="#231f20" stroke-width="2.7" />
<polygon points="395.50,296.70 390.60,312.90 395.50,310.90 400.40,312.90" fill="#231f20"/>
<line x1="395.50" y1="310.90" x2="395.5" y2="335" stroke="#231f20" stroke-width="2.5" />
<path d="M392.5,352 L392.5,396.3 A7,7 0 0 1 385.5,403.3 L301.3,403.3" fill="none" stroke="#231f20" stroke-width="2.7" />
<polygon points="386.9,363.0 398.1,363.0 392.5,371.3 398.1,379.6 386.9,379.6 392.5,371.3" fill="#231f20" stroke="#231f20" stroke-width="1.3" stroke-linejoin="miter"/>
<path d="M532.50,311.30 C532.08,312.08 531.00,314.38 530.00,316.00 C529.00,317.62 525.50,319.75 526.50,321.00 C527.50,322.25 535.75,322.50 536.00,323.50 C536.25,324.50 528.50,325.75 528.00,327.00 C527.50,328.25 532.75,329.58 533.00,331.00 C533.25,332.42 529.42,334.00 529.50,335.50 C529.58,337.00 533.25,338.42 533.50,340.00 C533.75,341.58 531.00,343.50 531.00,345.00 C531.00,346.50 533.25,347.75 533.50,349.00 C533.75,350.25 532.67,351.92 532.50,352.50" fill="none" stroke="#231f20" stroke-width="2.7" />
<path d="M560.80,314.20 C561.00,314.75 562.30,316.53 562.00,317.50 C561.70,318.47 558.17,319.00 559.00,320.00 C559.83,321.00 567.25,322.17 567.00,323.50 C566.75,324.83 558.17,326.58 557.50,328.00 C556.83,329.42 562.92,330.50 563.00,332.00 C563.08,333.50 558.00,335.50 558.00,337.00 C558.00,338.50 562.92,339.58 563.00,341.00 C563.08,342.42 558.58,344.25 558.50,345.50 C558.42,346.75 562.50,347.50 562.50,348.50 C562.50,349.50 559.17,351.00 558.50,351.50" fill="none" stroke="#231f20" stroke-width="2.7" />
<polygon points="519.5,353.4 533,351.6 558,351.6 566.5,353.4 558,354.9 533,354.9" fill="#231f20"/>
<polygon points="529,322 538,323.6 530,325.5" fill="#231f20"/>
<polygon points="562,322.3 570,324 562,326" fill="#231f20"/>
<path d="M560.8,314.2 L591,314.2" fill="none" stroke="#231f20" stroke-width="2.7" />
<rect x="591.9" y="305.3" width="21.2" height="20" fill="none" stroke="#231f20" stroke-width="2.7"/>
<circle cx="602" cy="336.4" r="7.7" fill="none" stroke="#231f20" stroke-width="2.7"/>
<line x1="567.5" y1="348" x2="632.5" y2="348" stroke="#231f20" stroke-width="2.7" />
<line x1="574.2" y1="349" x2="564.6" y2="359.8" stroke="#231f20" stroke-width="2.7" />
<line x1="583.4" y1="349" x2="573.8" y2="359.8" stroke="#231f20" stroke-width="2.7" />
<line x1="592.5" y1="349" x2="582.9" y2="359.8" stroke="#231f20" stroke-width="2.7" />
<line x1="601.7" y1="349" x2="592.1" y2="359.8" stroke="#231f20" stroke-width="2.7" />
<line x1="610.8" y1="349" x2="601.2" y2="359.8" stroke="#231f20" stroke-width="2.7" />
<line x1="620.0" y1="349" x2="610.4" y2="359.8" stroke="#231f20" stroke-width="2.7" />
<line x1="629.1" y1="349" x2="619.5" y2="359.8" stroke="#231f20" stroke-width="2.7" />
<polygon points="544.70,297.50 539.80,313.70 544.70,311.70 549.60,313.70" fill="#231f20"/>
<line x1="544.70" y1="311.70" x2="544.7" y2="334.7" stroke="#231f20" stroke-width="2.5" />
<path d="M544.7,353 L544.7,394.6 A7,7 0 0 0 551.7,401.6 L680.8,401.6" fill="none" stroke="#231f20" stroke-width="2.7" />
<polygon points="539.8000000000001,363.7 549.6,363.7 544.7,371.3 549.6,378.90000000000003 539.8000000000001,378.90000000000003 544.7,371.3" fill="#231f20" stroke="#231f20" stroke-width="1.3" stroke-linejoin="miter"/>
<polygon points="652.4,396.0 652.4,406.79999999999995 660.5,401.4 668.6,406.79999999999995 668.6,396.0 660.5,401.4" fill="#231f20" stroke="#231f20" stroke-width="1.3" stroke-linejoin="miter"/>
<g fill="none" stroke="#231f20" stroke-width="2.7">
<path d="M464.8,245.2 A27.5,27.5 0 0 1 499,263.5"/>
<path d="M443.3,279 A27.5,27.5 0 0 0 475.8,299.3"/>
<polygon points="453,242.6 506.5,270.8 487,301.6 435.7,270.5"/>
<line x1="463" y1="251.7" x2="450" y2="275"/>
<line x1="492.5" y1="268.3" x2="480" y2="293.3"/>
</g>
<polygon points="695.30,330.60 700.20,314.40 695.30,316.40 690.40,314.40" fill="#231f20"/>
<line x1="695.30" y1="316.40" x2="695.3" y2="292.5" stroke="#231f20" stroke-width="2.5" />
<path d="M723,392.3 L685.5,392.3 L685.5,410.3 L693,410.3 C695,424 702,435.6 714,435.6 C728,435.6 735.8,428 735.8,413 C735.8,399.5 730,392.3 723,392.3" fill="none" stroke="#231f20" stroke-width="2.7" />
<circle cx="706.7" cy="415.8" r="7.3" fill="none" stroke="#231f20" stroke-width="2.7"/>
<line x1="699.7" y1="417.3" x2="750.8" y2="417.3" stroke="#231f20" stroke-width="2.7" />
<path d="M750.8,418 L765.4,399.2 L765.4,438.2 Z" fill="none" stroke="#231f20" stroke-width="2.7" stroke-linejoin="miter"/>
<polygon points="772.00,419.70 788.20,424.60 786.20,419.70 788.20,414.80" fill="#231f20"/>
<line x1="786.20" y1="419.70" x2="809.7" y2="419.7" stroke="#231f20" stroke-width="2.5" />
<path d="M127.6,420.5 L115.3,403.6 L115.3,437.8 Z" fill="none" stroke="#231f20" stroke-width="2.7" stroke-linejoin="miter"/>
<line x1="127.3" y1="420.3" x2="182.5" y2="420.3" stroke="#231f20" stroke-width="2.7" />
<path d="M193.3,393 L167.5,393 C156,397 146.7,408 146.7,420 C147.5,430 158,437.5 170.5,437.5 C184,437.5 191,423 194.2,409.2" fill="none" stroke="#231f20" stroke-width="2.7" />
<circle cx="175.8" cy="420" r="7.6" fill="none" stroke="#231f20" stroke-width="2.7"/>
<rect x="194.1" y="391.6" width="8" height="17.4" fill="none" stroke="#231f20" stroke-width="2.7"/>
<line x1="203" y1="400.3" x2="242" y2="400.3" stroke="#231f20" stroke-width="2.7" />
<path d="M242,400.8 L255.8,381.4 L288.3,381.4 L301.3,403 L288.3,420.8 L255,420.8 Z" fill="none" stroke="#231f20" stroke-width="2.7" />
<path d="M256.3,484.2 L256.3,395.5 A5.6,5.8 0 0 1 267.5,395.5 L267.5,408.3 L275.8,408.3 L275.8,395.5 A5.6,5.8 0 0 1 287,395.5 L286.5,491.7" fill="none" stroke="#231f20" stroke-width="2.7" />
<path d="M286.5,438.4 L270.8,438.4 L270.8,472 A6.3,6.3 0 0 0 277.1,478.3 L286.5,478.3" fill="none" stroke="#231f20" stroke-width="2.7" />
<polygon points="265.4,449.5 276.6,449.5 271,457.3 276.6,465.1 265.4,465.1 271,457.3" fill="#231f20" stroke="#231f20" stroke-width="1.3" stroke-linejoin="miter"/>
<line x1="286.5" y1="454.6" x2="327.5" y2="458.8" stroke="#231f20" stroke-width="2.7" />
<circle cx="335.4" cy="455.3" r="7.7" fill="none" stroke="#231f20" stroke-width="2.7"/>
<polygon points="255.50,537.50 260.40,521.30 255.50,523.30 250.60,521.30" fill="#231f20"/>
<line x1="255.50" y1="523.30" x2="255.5" y2="499.7" stroke="#231f20" stroke-width="2.5" />
<polygon points="286.30,494.20 281.40,510.40 286.30,508.40 291.20,510.40" fill="#231f20"/>
<line x1="286.30" y1="508.40" x2="286.3" y2="532" stroke="#231f20" stroke-width="2.5" />
</g>
<defs><filter id="wmf" x="-5%" y="-30%" width="110%" height="160%" color-interpolation-filters="sRGB">
<feGaussianBlur in="SourceAlpha" stdDeviation="1.0" result="b"/>
<feOffset in="b" dx="0.7" dy="0.7" result="o"/>
<feComposite in="o" in2="SourceAlpha" operator="out" result="sh"/>
<feComponentTransfer in="sh" result="sh2"><feFuncA type="linear" slope="0.27"/></feComponentTransfer>
<feComponentTransfer in="SourceGraphic" result="w"><feFuncA type="linear" slope="0.33"/></feComponentTransfer>
<feMerge><feMergeNode in="sh2"/><feMergeNode in="w"/></feMerge>
</filter></defs>
<g class="wm" filter="url(#wmf)">
<text x="279.5" y="357.6" font-size="80" letter-spacing="5.7" style="font-weight:500">国金干燥</text>
<text x="281" y="404" font-size="43.8" style="font-family:'Liberation Mono',monospace">www.gjdry.com</text>
</g>
<g class="lab">
<text class="c" x="202.3" y="36" font-size="24" text-anchor="middle">原</text>
<text class="c" x="203" y="65.3" font-size="24" text-anchor="middle">料</text>
<text x="255.8" y="103.0" font-size="24.8" text-anchor="middle">1</text>
<text x="618.8" y="26.8" font-size="24.8" text-anchor="middle">5</text>
<text x="656.6" y="115.2" font-size="24.8" text-anchor="middle">6</text>
<text class="c" x="745.8" y="47.2" font-size="24" text-anchor="middle">排</text>
<text class="c" x="746" y="76.2" font-size="24" text-anchor="middle">气</text>
<text x="431.9" y="300.2" font-size="24.8" text-anchor="middle">9</text>
<text x="598" y="389.6" font-size="24.8" text-anchor="middle">10</text>
<text x="115.5" y="383.8" font-size="24.8" text-anchor="middle">2</text>
<text x="173" y="383.8" font-size="24.8" text-anchor="middle">3</text>
<text x="268.2" y="375.8" font-size="24.8" text-anchor="middle">4</text>
<text x="725.8" y="383.6" font-size="24.8" text-anchor="middle">7</text>
<text x="778.1" y="375.8" font-size="24.8" text-anchor="middle">8</text>
<text class="c" x="677" y="349.7" font-size="24" text-anchor="middle">制</text>
<text class="c" x="677.5" y="378.5" font-size="24" text-anchor="middle">品</text>
<text class="c" x="56.5" y="425" font-size="24" text-anchor="start" letter-spacing="2.7">空气</text>
<text class="c" x="788.3" y="405" font-size="24" text-anchor="start" letter-spacing="2.7">空气</text>
</g>
<g class="leg">
<text y="585.7"><tspan x="31.6" font-size="26.6">1.</tspan><tspan x="52.9" font-size="24.6" letter-spacing="1.45">振动给料器</tspan> <tspan x="197.1" font-size="25.31" letter-spacing="0.29">vibrating feeder</tspan></text>
<text y="620.8"><tspan x="31.6" font-size="26.6">2.</tspan><tspan x="52.9" font-size="24.6" letter-spacing="1.45">过滤器</tspan> <tspan x="145.4" font-size="25.31" letter-spacing="0.29">filter</tspan></text>
<text y="655.9"><tspan x="31.6" font-size="26.6">3.</tspan><tspan x="52.9" font-size="24.6" letter-spacing="1.45">给风机</tspan> <tspan x="145.4" font-size="25.31" letter-spacing="0.29">fan</tspan></text>
<text y="691.0"><tspan x="31.6" font-size="26.6">4.</tspan><tspan x="52.9" font-size="24.6" letter-spacing="1.45">换热器</tspan> <tspan x="145.9" font-size="25.31" letter-spacing="0.29">heat exchanger</tspan></text>
<text y="726.1"><tspan x="31.6" font-size="26.6">5.</tspan><tspan x="52.9" font-size="24.6" letter-spacing="1.45">旋风除尘器</tspan> <tspan x="197.7" font-size="25.31" letter-spacing="0.29">cyclone separator</tspan></text>
<text y="761.2"><tspan x="31.6" font-size="26.6">6.</tspan><tspan x="52.9" font-size="24.6" letter-spacing="1.45">排风器</tspan> <tspan x="145.4" font-size="25.31" letter-spacing="0.29">fan</tspan></text>
<text y="583.1"><tspan x="438.9" font-size="25.8">7.</tspan><tspan x="461.0" font-size="23.8" letter-spacing="1.9">给风机</tspan> <tspan x="553.2" font-size="25.13" letter-spacing="0.29">fan</tspan></text>
<text y="618.3"><tspan x="438.9" font-size="25.8">8.</tspan><tspan x="461.0" font-size="23.8" letter-spacing="1.9">过滤器</tspan> <tspan x="553.2" font-size="25.13" letter-spacing="0.29">filter</tspan></text>
<text y="657.3"><tspan x="441.3" font-size="26.6">9.</tspan><tspan x="463.2" font-size="24.6" letter-spacing="1.1">振动电机</tspan> <tspan x="581.4" font-size="25.13" letter-spacing="0.29">vibrating motor</tspan></text>
<text y="692.7"><tspan x="442.0" font-size="26.6">10.</tspan><tspan x="478.0" font-size="24.6" letter-spacing="1.1">隔振簧</tspan> <tspan x="570.4" font-size="25.13" letter-spacing="0.29">vibration separating spring</tspan></text>
</g>
</svg>
</body>
</html>
